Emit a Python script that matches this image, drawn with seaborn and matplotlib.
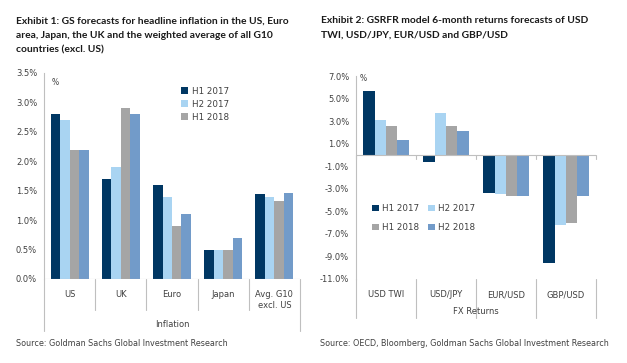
import numpy as np
import pandas as pd
import seaborn as sns
from matplotlib import pyplot as plt
from matplotlib.ticker import FuncFormatter, MultipleLocator

PERIODS = ["H1 2017", "H2 2017", "H1 2018", "H2 2018"]
COLORS = ["#003763", "#a9d4f2", "#a5a5a5", "#729bc9"]

INFL_COUNTRIES = ["US", "UK", "Euro", "Japan", "Avg. G10\nexcl. US"]
INFL_H1_2017 = [2.8, 1.7, 1.6, 0.5, 1.44]
INFL_H2_2017 = [2.7, 1.9, 1.4, 0.5, 1.40]
INFL_H1_2018 = [2.2, 2.9, 0.9, 0.5, 1.33]
INFL_H2_2018 = [2.2, 2.8, 1.1, 0.7, 1.46]

FX_PAIRS = ["USD TWI", "USD/JPY", "EUR/USD", "GBP/USD"]
FX_H1_2017 = [5.7, -0.6, -3.4, -9.6]
FX_H2_2017 = [3.1, 3.7, -3.5, -6.2]
FX_H1_2018 = [2.6, 2.6, -3.6, -6.0]
FX_H2_2018 = [1.3, 2.1, -3.6, -3.6]

TEXT = "#404040"
LINE = "#bfbfbf"


def long_frame(cats, series):
    rows = []
    for period, vals in zip(PERIODS, series):
        for cat, v in zip(cats, vals):
            rows.append({"cat": cat, "period": period, "value": v})
    return pd.DataFrame(rows)


def pct(v, _):
    return f"{v:.1f}%"


def style_axes(ax):
    sns.despine(ax=ax, bottom=True)
    ax.spines["left"].set_color(LINE)
    ax.spines["left"].set_linewidth(0.8)
    ax.tick_params(axis="y", length=3, color=LINE, labelsize=6, labelcolor=TEXT, pad=2)
    ax.tick_params(axis="x", length=0, labelsize=6, labelcolor=TEXT, pad=8)
    ax.yaxis.set_major_formatter(FuncFormatter(pct))
    ax.set_xlabel("")
    ax.set_ylabel("")
    ax.grid(False)


sns.set_theme(style="white")
plt.rcParams["font.family"] = ["DejaVu Sans"]

fig = plt.figure(figsize=(6.27, 3.63), dpi=100)

# ---- Exhibit 1
ax1 = fig.add_axes([44 / 627, 1 - 279 / 363, 256 / 627, 206 / 363])
df1 = long_frame(INFL_COUNTRIES, [INFL_H1_2017, INFL_H2_2017, INFL_H1_2018, INFL_H2_2018])
sns.barplot(data=df1, x="cat", y="value", hue="period", hue_order=PERIODS,
            palette=COLORS, saturation=1, width=0.74, linewidth=0, ax=ax1)
ax1.set_ylim(0, 3.5)
ax1.set_xlim(-0.5, 4.5)
ax1.yaxis.set_major_locator(MultipleLocator(0.5))
style_axes(ax1)
ax1.axhline(0, color=LINE, lw=0.8)
trans = ax1.get_xaxis_transform()
for i in range(6):
    d = 0.25 if i in (0, 5) else 0.15
    ax1.plot([i - 0.5, i - 0.5], [0, -d], transform=trans, color=LINE, lw=0.8, clip_on=False)
ax1.text(0.5, -0.22, "Inflation", transform=ax1.transAxes, ha="center", va="center",
         fontsize=6, color=TEXT)
ax1.text(0.045, 0.955, "%", transform=ax1.transAxes, ha="center", va="center",
         fontsize=5.5, color=TEXT)
h, l = ax1.get_legend_handles_labels()
ax1.legend(h[:3], l[:3], loc="upper left", bbox_to_anchor=(0.52, 0.955), frameon=False,
           fontsize=6.3, labelcolor=TEXT, handlelength=0.75, handleheight=0.75,
           handletextpad=0.4, labelspacing=0.45, borderpad=0)

# ---- Exhibit 2
ax2 = fig.add_axes([356 / 627, 1 - 279 / 363, 240 / 627, 203 / 363])
df2 = long_frame(FX_PAIRS, [FX_H1_2017, FX_H2_2017, FX_H1_2018, FX_H2_2018])
sns.barplot(data=df2, x="cat", y="value", hue="period", hue_order=PERIODS,
            palette=COLORS, saturation=1, width=0.76, linewidth=0, ax=ax2)
ax2.set_ylim(-11, 7)
ax2.set_xlim(-0.5, 3.5)
ax2.set_yticks(np.arange(-11, 8, 2))
style_axes(ax2)
ax2.axhline(0, color=LINE, lw=0.8)
zero_frac = 11 / 18
trans = ax2.get_xaxis_transform()
for i in range(5):
    ax2.plot([i - 0.5, i - 0.5], [zero_frac, zero_frac - 0.02], transform=trans,
             color=LINE, lw=0.8, clip_on=False)
    ax2.plot([i - 0.5, i - 0.5], [0, -0.19], transform=trans,
             color=LINE, lw=0.8, clip_on=False)
ax2.text(0.5, -0.16, "FX Returns", transform=ax2.transAxes, ha="center", va="center",
         fontsize=6, color=TEXT)
ax2.text(0.03, 0.99, "%", transform=ax2.transAxes, ha="center", va="center",
         fontsize=5.5, color=TEXT)
h, l = ax2.get_legend_handles_labels()
order = [0, 2, 1, 3]
ax2.legend([h[i] for i in order], [l[i] for i in order], loc="upper left",
           bbox_to_anchor=(0.05, 0.39), ncol=2, frameon=False,
           fontsize=6.3, labelcolor=TEXT, handlelength=0.75, handleheight=0.75,
           handletextpad=0.4, labelspacing=1.1, columnspacing=1.0, borderpad=0)

# ---- titles and sources
fig.text(16 / 627, 1 - 17 / 363,
         "Exhibit 1: GS forecasts for headline inflation in the US, Euro\n"
         "area, Japan, the UK and the weighted average of all G10\n"
         "countries (excl. US)",
         ha="left", va="top", fontsize=7.4, fontweight="bold", family="Lato",
         color="#1a1a1a", linespacing=1.75)
fig.text(321 / 627, 1 - 16 / 363,
         "Exhibit 2: GSRFR model 6-month returns forecasts of USD\n"
         "TWI, USD/JPY, EUR/USD and GBP/USD",
         ha="left", va="top", fontsize=7.4, fontweight="bold", family="Lato",
         color="#1a1a1a", linespacing=1.75)
fig.text(16 / 627, 1 - 343 / 363, "Source: Goldman Sachs Global Investment Research",
         ha="left", va="center", fontsize=5.8, color=TEXT)
fig.text(320 / 627, 1 - 343 / 363,
         "Source: OECD, Bloomberg, Goldman Sachs Global Investment Research",
         ha="left", va="center", fontsize=5.8, color=TEXT)

fig.savefig("out.png", dpi=100)
